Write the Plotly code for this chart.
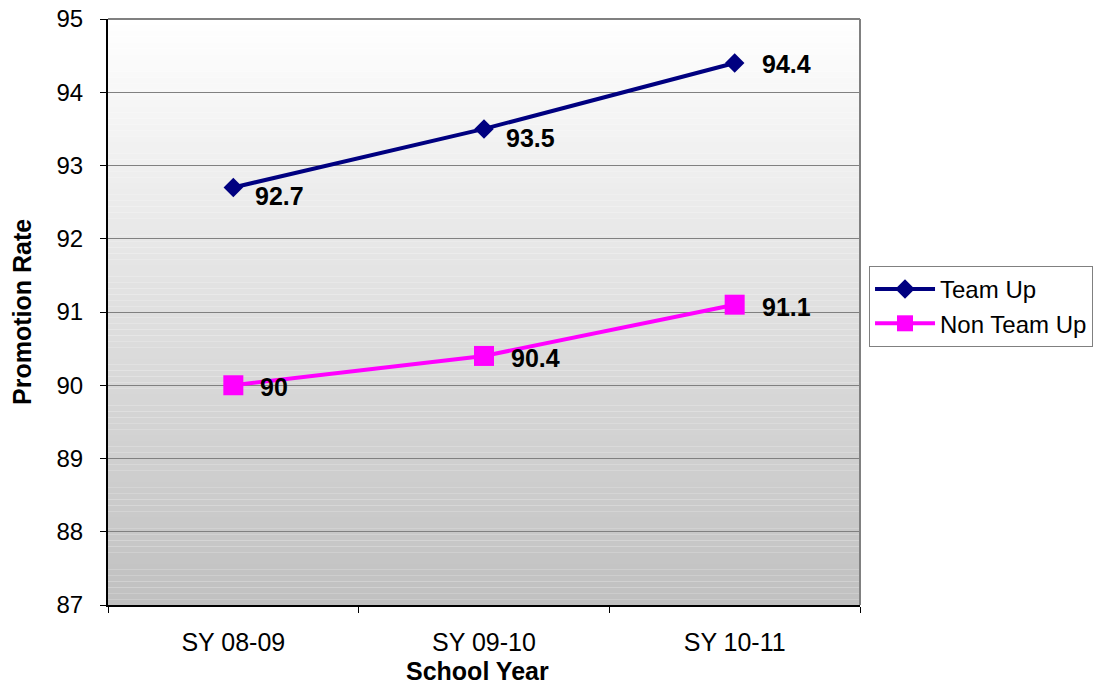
import plotly.graph_objects as go

years = ["SY 08-09", "SY 09-10", "SY 10-11"]
team_up = [92.7, 93.5, 94.4]
non_team_up = [90.0, 90.4, 91.1]
y_ticks = [87, 88, 89, 90, 91, 92, 93, 94, 95]

xpos = list(range(len(years)))
FONT = "Liberation Sans, Arial, sans-serif"

fig = go.Figure()
fig.add_trace(go.Scatter(x=xpos, y=team_up, mode="lines+markers", name="Team Up",
                         line=dict(color="#000080", width=4),
                         marker=dict(symbol="diamond", size=15, color="#000080")))
fig.add_trace(go.Scatter(x=xpos, y=non_team_up, mode="lines+markers", name="Non Team Up",
                         line=dict(color="#ff00ff", width=4),
                         marker=dict(symbol="square", size=20, color="#ff00ff")))

# data labels
t_dy = [-9, -9, -1]
for i, v in enumerate(team_up):
    fig.add_annotation(x=xpos[i], y=v, text=f"{v:g}", showarrow=False, xanchor="left",
                       xshift=20 if i < 2 else 25, yshift=t_dy[i],
                       font=dict(family=FONT, size=25, color="black", weight="bold"))
for i, v in enumerate(non_team_up):
    fig.add_annotation(x=xpos[i], y=v, text=f"{v:g}", showarrow=False, xanchor="left",
                       xshift=25, yshift=-2,
                       font=dict(family=FONT, size=25, color="black", weight="bold"))

# axis titles
fig.add_annotation(xref="paper", yref="paper", x=0.492, y=-0.1126, text="<b>School Year</b>",
                   showarrow=False, xanchor="center", yanchor="middle",
                   font=dict(family=FONT, size=25, color="black"))
fig.add_annotation(xref="paper", yref="paper", x=-0.1144, y=0.5, text="<b>Promotion Rate</b>",
                   showarrow=False, xanchor="center", yanchor="middle", textangle=-90,
                   font=dict(family=FONT, size=25, color="black"))

# gradient background
n = 100
for k in range(n):
    t = (k + 0.5) / n
    c = int(round(255 - (255 - 192) * t))
    fig.add_shape(type="rect", xref="x domain", yref="y domain",
                  x0=0, x1=1, y0=1 - (k + 1) / n, y1=1 - k / n,
                  fillcolor=f"rgb({c},{c},{c})", line=dict(width=0), layer="below")

# right and top borders
fig.add_shape(type="line", xref="x domain", yref="y domain", x0=1, x1=1, y0=0, y1=1,
              line=dict(color="#808080", width=2))
fig.add_shape(type="line", xref="x domain", yref="y domain", x0=0, x1=1, y0=1, y1=1,
              line=dict(color="#808080", width=2))

fig.update_layout(
    width=1096, height=686,
    margin=dict(l=108, r=236, t=19, b=81, autoexpand=False),
    paper_bgcolor="white", plot_bgcolor="white",
    font=dict(family=FONT, size=24, color="black"),
    showlegend=True,
    legend=dict(x=1.012, y=0.5785, xanchor="left", yanchor="top",
                bordercolor="#808080", borderwidth=1, bgcolor="white",
                font=dict(family=FONT, size=24), itemwidth=60,
                tracegroupgap=0),
)
fig.update_xaxes(range=[-0.5, 2.5], tickvals=xpos, ticktext=years,
                 ticks="outside", ticklen=6, tickcolor="rgba(0,0,0,0)", ticklabelstandoff=8,
                 showgrid=False, zeroline=False, showline=True, linecolor="black", linewidth=2,
                 tickfont=dict(family=FONT, size=25), automargin=False,
                 ticklabeloverflow="allow",
                 minor=dict(tickvals=[-0.5, 0.5, 1.5, 2.5], ticks="outside", ticklen=6,
                            tickcolor="black", showgrid=False))
fig.update_yaxes(range=[87, 95], tickvals=y_ticks, ticks="outside", ticklen=6, tickcolor="black",
                 ticklabelstandoff=12, ticklabeloverflow="allow",
                 showgrid=True, gridcolor="#808080", gridwidth=1, zeroline=False,
                 showline=True, linecolor="black", linewidth=2, automargin=False,
                 tickfont=dict(family=FONT, size=24))

fig.write_html("out.html", config={"displayModeBar": False},
               post_script="document.body.style.margin='0';")
